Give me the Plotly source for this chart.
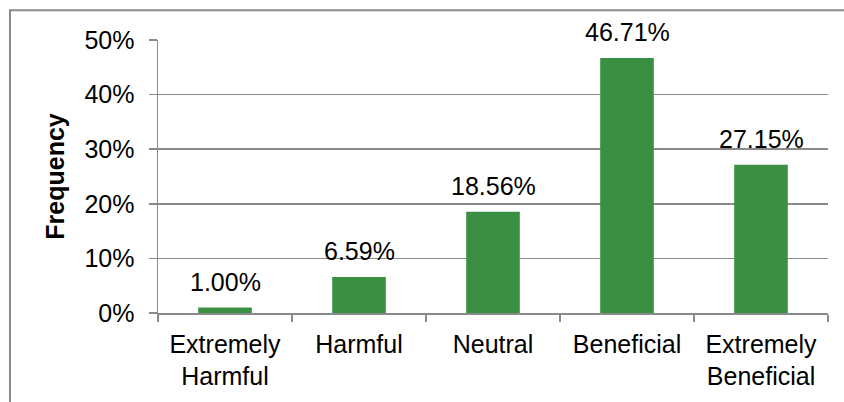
import plotly.graph_objects as go

categories = ["Extremely<br>Harmful", "Harmful", "Neutral", "Beneficial", "Extremely<br>Beneficial"]
values = [0.0100, 0.0659, 0.1856, 0.4671, 0.2715]
labels = ["1.00%", "6.59%", "18.56%", "46.71%", "27.15%"]
y_ticks = [0, 0.1, 0.2, 0.3, 0.4, 0.5]
y_tick_labels = ["0%", "10%", "20%", "30%", "40%", "50%"]

W, H = 844, 402
ML, MR, MT, MB = 158, 16, 40, 86
FONT = "Liberation Sans, Arial, sans-serif"
FS = 25
GRAY = "#8a8a8a"

fig = go.Figure()
fig.add_trace(go.Bar(
    x=categories, y=values,
    marker=dict(color="#3a8f42", line=dict(width=0)),
    hoverinfo="skip",
))

for c, v, t in zip(categories, values, labels):
    fig.add_annotation(
        x=c, y=v, text=t, showarrow=False, yanchor="bottom",
        yshift=10, font=dict(family=FONT, size=FS, color="#000000"),
    )

pw = W - ML - MR
ph = H - MT - MB
# outer chart border (left and top visible)
fig.add_shape(
    type="rect", xref="paper", yref="paper",
    x0=(10 - ML) / pw, x1=(W + 20 - ML) / pw,
    y0=-(H + 20 - MT - ph) / ph, y1=1 + (MT - 10) / ph,
    line=dict(color=GRAY, width=2), fillcolor="rgba(0,0,0,0)", layer="below",
)

fig.update_layout(
    width=W, height=H,
    margin=dict(l=ML, r=MR, t=MT, b=MB, pad=0),
    paper_bgcolor="white", plot_bgcolor="white",
    bargap=0.6, showlegend=False,
    font=dict(family=FONT, size=FS, color="#000000"),
    xaxis=dict(
        type="category", tickson="boundaries", ticks="outside", ticklen=7,
        tickcolor=GRAY, tickwidth=1.5, showline=True, linecolor=GRAY, linewidth=1.5,
        showgrid=False, tickfont=dict(family=FONT, size=FS, color="#000000"),
        ticklabelstandoff=8, fixedrange=True,
    ),
    yaxis=dict(
        range=[0, 0.5], tickvals=y_ticks, ticktext=y_tick_labels,
        ticks="outside", ticklen=8, tickcolor=GRAY, tickwidth=1.5,
        showline=True, linecolor=GRAY, linewidth=1.5,
        showgrid=True, gridcolor=GRAY, gridwidth=1.5, zeroline=False,
        tickfont=dict(family=FONT, size=FS, color="#000000"),
        ticklabelstandoff=9,
        title=dict(text="<b>Frequency</b>", font=dict(family=FONT, size=25, color="#000000"), standoff=12),
        fixedrange=True,
    ),
)

fig.write_html(
    "out.html",
    config={"displayModeBar": False, "staticPlot": True},
    post_script="document.body.style.margin='0';document.body.style.overflow='hidden';",
)
